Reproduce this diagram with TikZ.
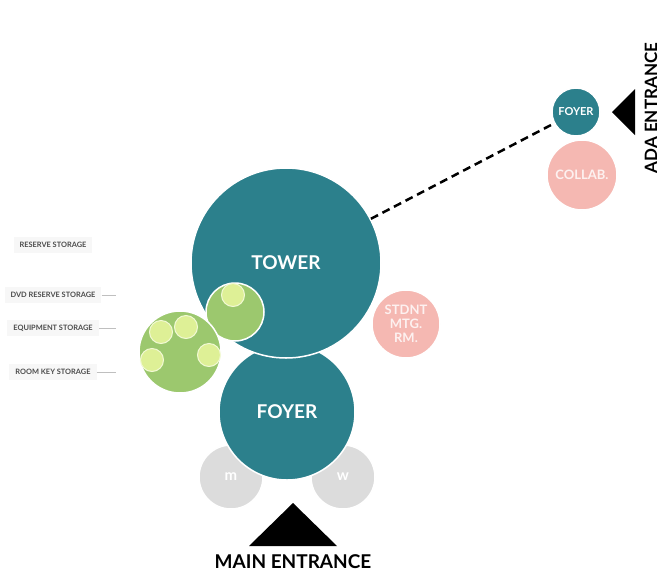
\documentclass[tikz,border=0pt]{standalone}
\usepackage{fontspec}
\setmainfont{Lato}
\usetikzlibrary{
positioning
}
\definecolor{tealroom}{RGB}{44,128,140}
\definecolor{pinkroom}{RGB}{245,184,178}
\definecolor{greenroom}{RGB}{156,200,110}
\definecolor{limeroom}{RGB}{222,240,150}
\definecolor{grayroom}{RGB}{220,220,220}

\begin{document}
\begin{tikzpicture}[
        x=1pt, y=-1pt,
        room/.style={
          circle,
          inner sep=0pt,
          draw=white,
          line width=1.5pt,
          text=white,
          align=center,
          font=\bfseries\fontsize{19}{21}\selectfont,
        },
        teal room/.style={
          room,
          fill=tealroom,
        },
        pink room/.style={
          room,
          fill=pinkroom,
          text=white!80!pinkroom,
          font=\bfseries\fontsize{13}{14}\selectfont,
        },
        green room/.style={
          room,
          fill=greenroom,
        },
        lime spot/.style={
          circle,
          inner sep=0pt,
          minimum size=23pt,
          fill=limeroom,
          draw=white!60!limeroom,
          line width=1pt,
        },
        gray room/.style={
          room,
          fill=grayroom,
          minimum size=64pt,
          font=\bfseries\fontsize{15}{16}\selectfont,
        },
        storage label/.style={
          fill=black!3,
          inner xsep=6pt,
          inner ysep=5pt,
          text=black!70,
          font=\bfseries\fontsize{7.4}{8}\selectfont,
        },
        leader/.style={
          draw=black!25,
          line width=0.5pt,
        },
        entrance/.style={
          text=black,
          font=\bfseries\fontsize{19}{21}\selectfont,
        },
        ]
        \useasboundingbox (0,0) rectangle (665,582);

        % restrooms and main rooms
        \node [gray room] (men) at (231,477) {m};
        \node [gray room] (women) at (343,477) {w};
        \node [teal room, minimum size=136pt] (foyer) at (287,412) {FOYER};
        \node [teal room, minimum size=190pt] (tower) at (286,263) {TOWER};
        \node [pink room, minimum size=68pt] (stdnt) at (406,324) {STDNT\\MTG.\\RM.};

        % storage rooms
        \node [green room, minimum size=58pt] (dvd) at (235,312) {};
        \node [lime spot] (dvd-a) at (233,295) {};
        \node [green room, minimum size=82pt] (equip) at (180,352) {};
        \node [lime spot] (equip-a) at (161,332) {};
        \node [lime spot] (equip-b) at (186,327) {};
        \node [lime spot] (equip-c) at (209,355) {};
        \node [lime spot] (equip-d) at (152,360) {};

        % ada side
        \node [teal room, minimum size=48pt,
          font=\bfseries\fontsize{11}{12}\selectfont] (ada-foyer) at (576,112) {FOYER};
        \node [pink room, minimum size=70pt] (collab) at (582,175) {COLLAB.};
        \draw [dashed, line width=2.5pt, dash pattern=on 8pt off 5pt]
        (tower) -- (ada-foyer);

        % entrances
        \fill (293,503) -- (337,546) -- (249,546) -- cycle;
        \node [entrance] (main-entrance) at (293,562) {MAIN ENTRANCE};
        \fill (612,112) -- (635,89) -- (635,135) -- cycle;
        \node [entrance, rotate=90,
          font=\bfseries\fontsize{17}{19}\selectfont] (ada-entrance) at (651,108) {ADA ENTRANCE};

        % storage labels
        \node [storage label] (reserve-label) at (53,245) {RESERVE STORAGE};
        \node [storage label] (dvd-label) at (53,295) {DVD RESERVE STORAGE};
        \node [storage label] (equip-label) at (53,328) {EQUIPMENT STORAGE};
        \node [storage label] (key-label) at (53,372) {ROOM KEY STORAGE};
        \coordinate (dvd-end) at (116,295);
        \coordinate (equip-end) at (116,328);
        \coordinate (key-end) at (116,372);
        \path [leader] (dvd-label) -- (dvd-end);
        \path [leader] (equip-label) -- (equip-end);
        \path [leader] (key-label) -- (key-end);
      \end{tikzpicture}
\end{document}
